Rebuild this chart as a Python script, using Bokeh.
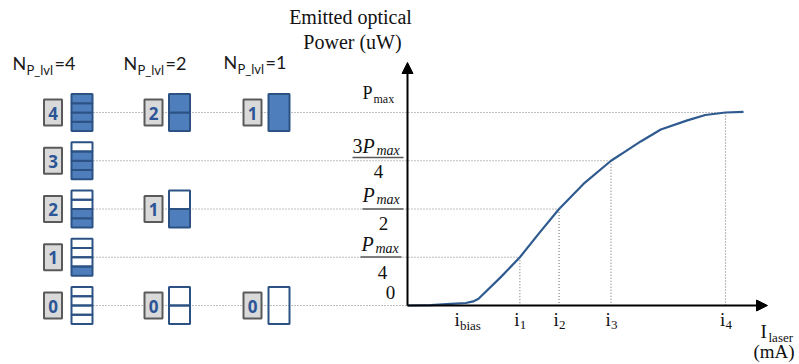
import numpy as np
from bokeh.plotting import figure
from bokeh.models import Range1d, Arrow, NormalHead
from bokeh.core.properties import value
from bokeh.embed import file_html
from bokeh.resources import INLINE

# ---------------- data ----------------
n_p_lvl = [4, 2, 1]                       # number of power levels per column
power_levels = [0, 1, 2, 3, 4]            # emitted power in units of Pmax/4
level_currents = [0.0, 10.6, 14.3, 19.2, 30.0]   # current (mA) reaching each level
tick_currents = [5.8, 10.6, 14.3, 19.2, 30.0]
tick_subs = ["bias", "1", "2", "3", "4"]
curve_current = [0.0, 2.2, 4.1, 5.5, 6.2, 6.7, 8.8, 10.6, 12.5, 14.3, 16.6,
                 19.2, 20.6, 22.0, 23.9, 26.4, 28.1, 30.0, 31.7]
curve_power = [0.0, 0.002, 0.008, 0.013, 0.021, 0.035, 0.147, 0.25, 0.38, 0.5,
               0.63, 0.75, 0.80, 0.85, 0.912, 0.959, 0.987, 1.0, 1.003]

# ---------------- layout ----------------
W, H = 799, 364
PXU, PYU = 10.6, 193.0          # pixels per mA, pixels per Pmax
OX, OY = 407, 305               # page position of the origin


def X(px):
    return (px - OX) / PXU


def Y(py):
    return (OY - py) / PYU


p = figure(width=W, height=H, output_backend="svg", toolbar_location=None,
           x_range=Range1d(X(0), X(W)), y_range=Range1d(Y(H), Y(0)),
           x_axis_location=None, y_axis_location=None, min_border=0,
           outline_line_color=None, background_fill_color="white")
p.xgrid.visible = False
p.ygrid.visible = False


def txt(xs, bases, texts, size, font="Liberation Serif", style="normal",
        align="left", color="#111111", k=0.33):
    # bases are baseline positions in page px; draw with middle baseline
    p.text(x=xs, y=[Y(b - k * size) for b in bases], text=texts,
           text_font=value(font), text_font_size=value(f"{size}px"),
           text_font_style=value(style), text_align=value(align),
           text_baseline=value("middle"), text_color=color)


DOT = dict(line_color="#808080", line_width=1.2, line_dash="1 2")
level_y = [lv / 4 for lv in power_levels]

# dotted guide lines
bar_w, bar_h = 21, 37
col_bar_x = [81.5, 179, 278.5]
col_box_x = [52.5, 153, 252]
start_x = X(col_bar_x[0] + bar_w / 2 + 1)
p.segment(x0=[start_x] * 5, y0=level_y, x1=level_currents, y1=level_y, **DOT)
p.segment(x0=level_currents[1:], y0=level_y[1:], x1=level_currents[1:],
          y1=[0] * 4, **DOT)

# level columns
FILL, EDGE = "#4e7fbc", "#2c5284"
for c, n in enumerate(n_p_lvl):
    bx, nx = col_bar_x[c], col_box_x[c]
    for lv, yc in zip(power_levels, level_y):
        if (lv * n) % 4:
            continue
        shown = lv * n // 4
        seg_h = bar_h / n / PYU
        bottom0 = yc - bar_h / 2 / PYU
        lefts, rights, bots, tops, fills = [], [], [], [], []
        for j in range(n):
            lefts.append(X(bx - bar_w / 2))
            rights.append(X(bx + bar_w / 2))
            bots.append(bottom0 + j * seg_h)
            tops.append(bottom0 + (j + 1) * seg_h)
            fills.append(FILL if j < shown else None)
        p.quad(left=lefts, right=rights, bottom=bots, top=tops,
               fill_color=fills, line_color=EDGE, line_width=2)
        p.rect(x=[X(nx)], y=[yc], width=18 / PXU, height=26 / PYU,
               fill_color="#d9d9d9", line_color="#5a5a5a", line_width=2)
        p.text(x=[X(nx)], y=[yc - 0.5 / PYU], text=[str(shown)],
               text_font=value("Open Sans"), text_font_size=value("17px"),
               text_font_style=value("bold"), text_align=value("center"),
               text_baseline=value("middle"), text_color="#2c5597")

# column headers
hdr_x = [12, 123, 223]
hdr_b = [68, 68, 67]
for hx, hb, n in zip(hdr_x, hdr_b, n_p_lvl):
    txt([X(hx)], [hb], ["N"], 18, font="Lato", color="#1a1a1a")
    txt([X(hx + 14)], [hb + 6], ["P_lvl"], 13, font="Lato", color="#1a1a1a")
    txt([X(hx + 42)], [hb], [f"={n}"], 18, font="Lato", color="#1a1a1a")

# curve
p.line(curve_current, curve_power, line_color="#2e5a8f", line_width=2.2,
       line_join="round")

# axes with arrows
p.add_layout(Arrow(end=NormalHead(size=11, fill_color="black", line_color="black"),
                   x_start=0, y_start=0, x_end=0, y_end=Y(62),
                   line_color="black", line_width=2))
p.add_layout(Arrow(end=NormalHead(size=11, fill_color="black", line_color="black"),
                   x_start=0, y_start=0, x_end=X(767), y_end=0,
                   line_color="black", line_width=2))

# title
txt([X(350)], [23], ["Emitted optical"], 20, align="center")
txt([X(352)], [48], ["Power (uW)"], 20, align="center")

# y labels
txt([X(362)], [98], ["P"], 18)
txt([X(373)], [102], ["max"], 12)
# 3Pmax/4
txt([X(352)], [152], ["3"], 20)
txt([X(362)], [152], ["P"], 20, style="italic")
txt([X(376)], [155], ["max"], 14, style="italic")
# Pmax/2, Pmax/4
txt([X(362), X(361)], [201, 250], ["P", "P"], 20, style="italic")
txt([X(376), X(375)], [204, 253], ["max", "max"], 14, style="italic")
p.segment(x0=[X(352), X(362), X(360)], y0=[Y(157), Y(208.5), Y(256.5)],
          x1=[X(403), X(403), X(401)], y1=[Y(157), Y(208.5), Y(256.5)],
          line_color="#595959", line_width=1.6)
txt([X(378), X(383), X(382)], [177, 229, 278], ["4", "2", "4"], 19,
    align="center")
txt([X(390)], [298], ["0"], 19, align="center")

# x labels
for tc, sub in zip(tick_currents, tick_subs):
    sub_w = len(sub) * 6.0
    left = tc * PXU + OX - (5 + sub_w) / 2
    txt([X(left)], [325], ["i"], 19)
    txt([X(left + 5.5)], [329], [sub], 13)
txt([X(760)], [337], ["I"], 19)
txt([X(768)], [341], ["laser"], 13)
txt([X(753)], [357], ["(mA)"], 19)

open("out.html", "w").write(file_html(p, INLINE))
